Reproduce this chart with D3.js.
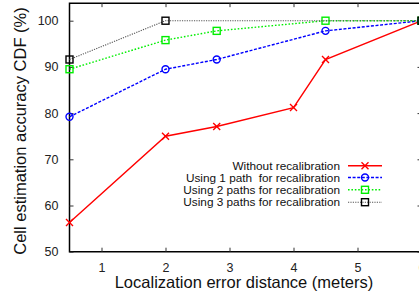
<!DOCTYPE html>
<html>
<head>
<meta charset="utf-8">
<script src="https://cdn.jsdelivr.net/npm/d3@7"></script>
<style>
  body { margin: 0; background: #fff; }
  svg { display: block; font-family: "Liberation Sans", Arial, sans-serif; }
</style>
</head>
<body>
<div id="chart"></div>
<script>
// Data
const seriesNames = [
  'Without recalibration',
  'Using 1 path  for recalibration',
  'Using 2 paths for recalibration',
  'Using 3 paths for recalibration'
];
const withoutX = [0.5, 2, 2.8, 4, 4.5, 6];
const withoutY = [56.3, 75, 77.1, 81.2, 91.6, 100];
const path1X = [0.5, 2, 2.8, 4.5, 6];
const path1Y = [79.2, 89.5, 91.6, 97.8, 100];
const path2X = [0.5, 2, 2.8, 4.5, 6];
const path2Y = [89.5, 95.8, 97.8, 100, 100];
const path3X = [0.5, 2, 6];
const path3Y = [91.6, 100, 100];
const xTicks = [1, 2, 3, 4, 5, 6];
const yTicks = [50, 60, 70, 80, 90, 100];

const width = 419, height = 296;
const svg = d3.select('#chart').append('svg')
  .attr('width', width)
  .attr('height', height);

// Scales (plot runs past the right edge of the picture, as in the reference)
const x = d3.scaleLinear().domain([0.5, 6]).range([69.5, 421.5]);
const y = d3.scaleLinear().domain([50, 100]).range([251.7, 20.7]);
const yTop = 103.8;

// Frame
const plotLeft = x(0.5), plotRight = x(6), plotTop = y(yTop), plotBottom = y(50);
svg.append('path')
  .attr('d', `M${plotRight},${plotTop}H${plotLeft}V${plotBottom}H${plotRight}V${plotTop}`)
  .attr('fill', 'none')
  .attr('stroke', '#000')
  .attr('stroke-width', 1.5);

// Axes with gnuplot-style inward ticks
svg.append('g')
  .attr('transform', `translate(0,${plotBottom})`)
  .call(d3.axisBottom(x).tickValues(xTicks).tickSize(-4).tickPadding(11).tickFormat(d3.format('d')));
svg.append('g')
  .attr('transform', `translate(0,${plotTop})`)
  .call(d3.axisTop(x).tickValues(xTicks).tickSize(-4).tickFormat(''));
svg.append('g')
  .attr('transform', `translate(${plotLeft},0)`)
  .call(d3.axisLeft(y).tickValues(yTicks).tickSize(-4).tickPadding(11).tickFormat(d3.format('d')));
svg.append('g')
  .attr('transform', `translate(${plotRight},0)`)
  .call(d3.axisRight(y).tickValues(yTicks).tickSize(-4).tickFormat(''));

svg.selectAll('.domain').remove();
svg.selectAll('.tick line').attr('stroke', '#333').attr('stroke-width', 1);
svg.selectAll('.tick text')
  .attr('font-size', '12.5px')
  .attr('fill', '#222')
  .attr('font-family', '"Liberation Sans", Arial, sans-serif');

// Axis titles
svg.append('text')
  .attr('x', 244)
  .attr('y', 288)
  .attr('text-anchor', 'middle')
  .attr('font-size', '16.5px')
  .attr('fill', '#111')
  .text('Localization error distance (meters)');

svg.append('text')
  .attr('transform', 'translate(26,131) rotate(-90)')
  .attr('text-anchor', 'middle')
  .attr('font-size', '16.5px')
  .attr('fill', '#111')
  .text('Cell estimation accuracy CDF (%)');

// Series
const series = [
  { name: seriesNames[0], xs: withoutX, ys: withoutY, color: '#ff0000', dash: null, width: 1.4, marker: 'x' },
  { name: seriesNames[1], xs: path1X, ys: path1Y, color: '#0000ff', dash: '3,1.6', width: 1.4, marker: 'circle' },
  { name: seriesNames[2], xs: path2X, ys: path2Y, color: '#00ee00', dash: '1.6,1.8', width: 1.4, marker: 'square' },
  { name: seriesNames[3], xs: path3X, ys: path3Y, color: '#000000', dash: '1.2,1.2', width: 1.1, marker: 'square', lineColor: '#555' }
];

const line = d3.line().x(d => x(d[0])).y(d => y(d[1]));

function drawMarker(g, type, cx, cy, color) {
  const s = 3.5;
  if (type === 'x') {
    g.append('path')
      .attr('d', `M${cx - s},${cy - s}L${cx + s},${cy + s}M${cx - s},${cy + s}L${cx + s},${cy - s}`)
      .attr('stroke', color).attr('stroke-width', 1.4).attr('fill', 'none');
  } else if (type === 'circle') {
    g.append('circle').attr('cx', cx).attr('cy', cy).attr('r', s)
      .attr('stroke', color).attr('stroke-width', 1.4).attr('fill', 'none');
  } else {
    g.append('rect').attr('x', cx - s).attr('y', cy - s).attr('width', 2 * s).attr('height', 2 * s)
      .attr('stroke', color).attr('stroke-width', 1.4).attr('fill', 'none');
  }
}

series.forEach(s => {
  const pts = s.xs.map((v, i) => [v, s.ys[i]]);
  const g = svg.append('g');
  g.append('path')
    .attr('d', line(pts))
    .attr('fill', 'none')
    .attr('stroke', s.lineColor || s.color)
    .attr('stroke-width', s.width)
    .attr('stroke-dasharray', s.dash);
  pts.forEach(p => drawMarker(g, s.marker, x(p[0]), y(p[1]), s.color));
});

// Legend
const legendY = [165.7, 177.5, 189.8, 202.2];
const legend = svg.append('g');
series.forEach((s, i) => {
  const ly = legendY[i];
  legend.append('text')
    .attr('x', 340)
    .attr('y', ly)
    .attr('dy', '0.36em')
    .attr('text-anchor', 'end')
    .attr('font-size', '11.8px')
    .attr('fill', '#111')
    .style('white-space', 'pre')
    .text(s.name);
  legend.append('line')
    .attr('x1', 348).attr('x2', 382)
    .attr('y1', ly).attr('y2', ly)
    .attr('stroke', s.lineColor || s.color)
    .attr('stroke-width', s.width)
    .attr('stroke-dasharray', s.dash);
  drawMarker(legend, s.marker, 365, ly, s.color);
});
</script>
</body>
</html>
